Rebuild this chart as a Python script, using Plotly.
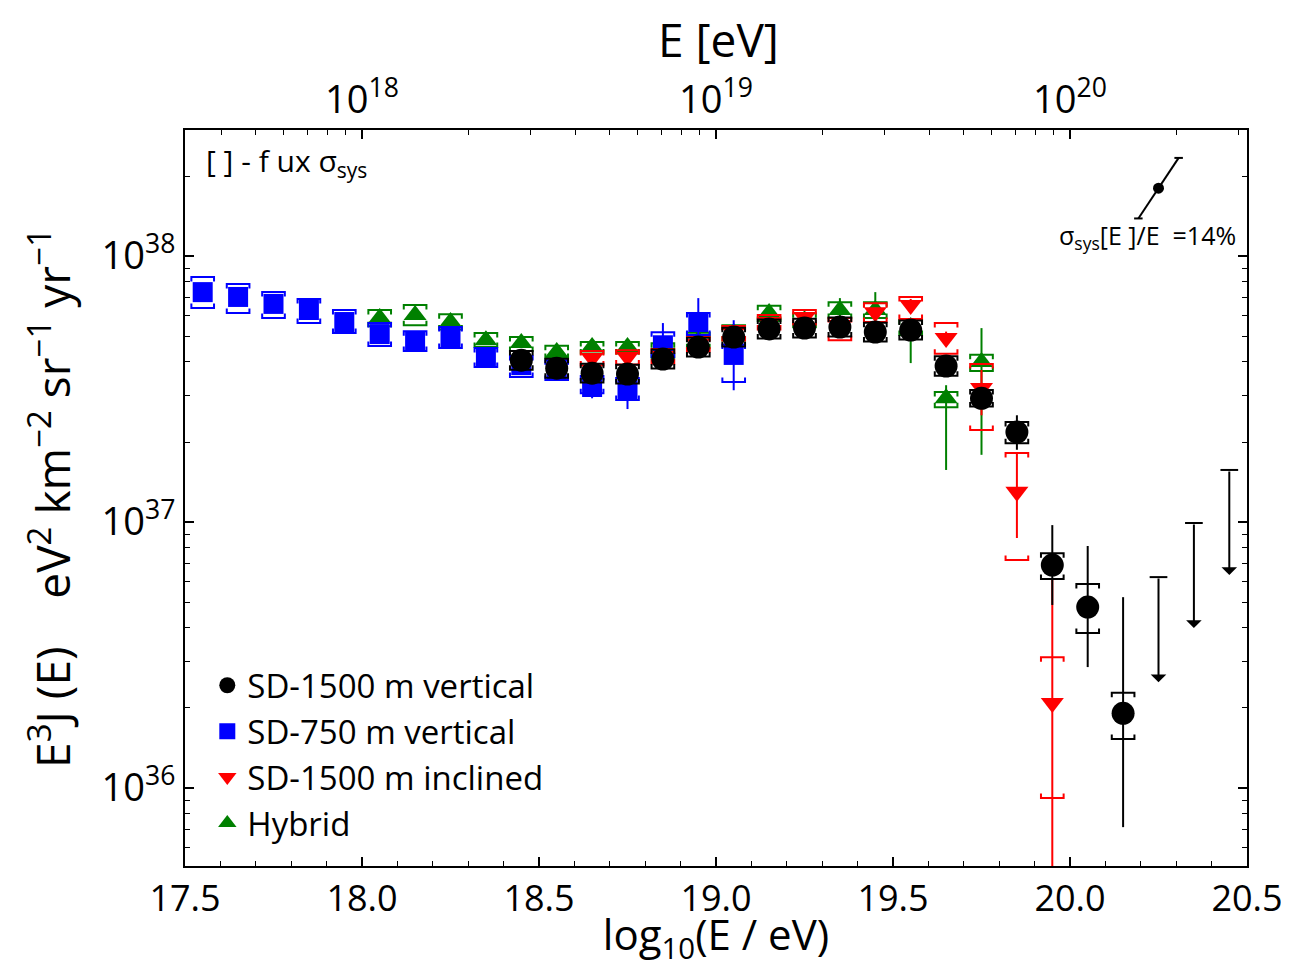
import numpy as np
import plotly.graph_objects as go

# ---------------- data ----------------
# SD-750 m vertical
x_750 = [17.55, 17.65, 17.75, 17.85, 17.95, 18.05, 18.15, 18.25, 18.35, 18.45,
         18.55, 18.65, 18.75, 18.85, 18.95, 19.05]
y_750 = [7.32e37, 7.02e37, 6.61e37, 6.27e37, 5.65e37, 5.09e37, 4.79e37, 4.96e37, 4.17e37, 3.89e37,
         3.72e37, 3.22e37, 3.13e37, 4.62e37, 5.65e37, 4.25e37]
stat_hi_750 = [7.45e37, 7.15e37, 6.72e37, 6.38e37, 5.75e37, 5.18e37, 4.88e37, 5.05e37, 4.25e37, 3.98e37,
               3.82e37, 3.55e37, 3.45e37, 5.60e37, 6.95e37, 5.74e37]
stat_lo_750 = [7.19e37, 6.89e37, 6.50e37, 6.16e37, 5.55e37, 5.00e37, 4.70e37, 4.87e37, 4.09e37, 3.80e37,
               3.62e37, 2.92e37, 2.66e37, 4.00e37, 5.00e37, 3.13e37]
sys_hi_750 = [8.34e37, 7.85e37, 7.32e37, 6.89e37, 6.27e37, 5.60e37, 5.22e37, 5.41e37, 4.51e37, 4.21e37,
              4.06e37, 3.54e37, 3.48e37, 5.17e37, 6.11e37, 4.65e37]
sys_lo_750 = [6.38e37, 6.11e37, 5.85e37, 5.60e37, 5.14e37, 4.59e37, 4.40e37, 4.51e37, 3.83e37, 3.51e37,
              3.42e37, 3.05e37, 2.88e37, 4.17e37, 5.05e37, 3.36e37]

# SD-1500 m vertical
x_1500 = [18.45, 18.55, 18.65, 18.75, 18.85, 18.95, 19.05, 19.15, 19.25, 19.35,
          19.45, 19.55, 19.65, 19.75, 19.85, 19.95, 20.05, 20.15]
y_1500 = [4.06e37, 3.79e37, 3.63e37, 3.60e37, 4.10e37, 4.55e37, 4.96e37, 5.32e37, 5.36e37, 5.41e37,
          5.18e37, 5.27e37, 3.86e37, 2.92e37, 2.18e37, 6.89e36, 4.79e36, 1.91e36]
stat_hi_1500 = [4.10e37, 3.83e37, 3.67e37, 3.64e37, 4.14e37, 4.60e37, 5.01e37, 5.38e37, 5.42e37, 5.48e37,
                5.26e37, 5.37e37, 4.00e37, 3.10e37, 2.52e37, 9.74e36, 8.13e36, 5.22e36]
stat_lo_1500 = [4.02e37, 3.75e37, 3.59e37, 3.56e37, 4.06e37, 4.50e37, 4.91e37, 5.26e37, 5.30e37, 5.34e37,
                5.10e37, 5.17e37, 3.72e37, 2.75e37, 1.87e37, 4.88e36, 2.85e36, 7.13e35]
sys_hi_1500 = [4.40e37, 4.11e37, 3.94e37, 3.90e37, 4.45e37, 4.93e37, 5.38e37, 5.77e37, 5.81e37, 5.87e37,
               5.62e37, 5.72e37, 4.20e37, 3.14e37, 2.38e37, 7.64e36, 5.85e36, 2.28e36]
sys_lo_1500 = [3.74e37, 3.49e37, 3.35e37, 3.32e37, 3.78e37, 4.19e37, 4.57e37, 4.90e37, 4.94e37, 4.99e37,
               4.77e37, 4.86e37, 3.55e37, 2.72e37, 1.98e37, 6.11e36, 3.83e36, 1.53e36]

# SD-1500 m vertical, upper limits
x_ul = [20.25, 20.35, 20.45]
y_ul = [6.21e36, 9.92e36, 1.57e37]

# SD-1500 m inclined
x_incl = [18.65, 18.75, 18.85, 18.95, 19.05, 19.15, 19.25, 19.35, 19.45, 19.55,
          19.65, 19.75, 19.85, 19.95]
y_incl = [4.14e37, 4.17e37, 4.21e37, 4.67e37, 5.14e37, 5.65e37, 5.90e37, 5.51e37, 6.15e37, 6.55e37,
          4.92e37, 3.19e37, 1.30e37, 2.09e36]
stat_hi_incl = [4.22e37, 4.25e37, 4.30e37, 4.77e37, 5.26e37, 5.80e37, 6.06e37, 5.70e37, 6.40e37, 6.90e37,
                5.20e37, 3.73e37, 1.82e37, 6.05e36]
stat_lo_incl = [4.06e37, 4.09e37, 4.12e37, 4.57e37, 5.02e37, 5.50e37, 5.74e37, 5.32e37, 5.90e37, 6.20e37,
                4.60e37, 2.52e37, 8.71e36, 1.0e35]
sys_hi_incl = [4.40e37, 4.43e37, 4.47e37, 4.96e37, 5.46e37, 6.00e37, 6.27e37, 5.85e37, 6.65e37, 7.02e37,
               5.60e37, 3.93e37, 1.82e37, 3.10e36]
sys_lo_incl = [3.88e37, 3.91e37, 3.95e37, 4.38e37, 4.82e37, 5.30e37, 5.53e37, 4.83e37, 5.65e37, 5.80e37,
               4.29e37, 2.22e37, 7.20e36, 9.17e35]

# Hybrid
x_hyb = [18.05, 18.15, 18.25, 18.35, 18.45, 18.55, 18.65, 18.75, 18.85, 18.95,
         19.05, 19.15, 19.25, 19.35, 19.45, 19.55, 19.65, 19.75]
y_hyb = [5.85e37, 6.00e37, 5.65e37, 4.83e37, 4.71e37, 4.36e37, 4.55e37, 4.55e37, 4.43e37, 4.83e37,
         5.14e37, 6.11e37, 5.74e37, 6.27e37, 6.27e37, 5.41e37, 2.92e37, 4.00e37]
stat_hi_hyb = [6.05e37, 6.20e37, 5.83e37, 4.98e37, 4.86e37, 4.50e37, 4.70e37, 4.70e37, 4.60e37, 5.02e37,
               5.35e37, 6.40e37, 6.02e37, 6.95e37, 7.32e37, 5.60e37, 3.27e37, 5.36e37]
stat_lo_hyb = [5.65e37, 5.80e37, 5.47e37, 4.68e37, 4.56e37, 4.22e37, 4.40e37, 4.40e37, 4.26e37, 4.64e37,
               4.93e37, 5.82e37, 5.46e37, 5.62e37, 5.40e37, 3.96e37, 1.57e37, 1.79e37]
sys_hi_hyb = [6.27e37, 6.55e37, 6.05e37, 5.14e37, 4.96e37, 4.60e37, 4.75e37, 4.75e37, 4.70e37, 5.15e37,
              5.50e37, 6.50e37, 6.10e37, 6.70e37, 6.70e37, 5.75e37, 3.08e37, 4.26e37]
sys_lo_hyb = [5.45e37, 5.50e37, 5.30e37, 4.55e37, 4.40e37, 4.14e37, 4.30e37, 4.30e37, 4.15e37, 4.50e37,
              4.80e37, 5.70e37, 5.40e37, 5.85e37, 5.85e37, 5.05e37, 2.70e37, 3.70e37]

# energy-scale systematic indicator
esys_x = 20.25
esys_y = 1.80e38
esys_frac = 0.14

# axis ticks
y_major = [1e36, 1e37, 1e38]
y_major_text = ["10<sup>36</sup>", "10<sup>37</sup>", "10<sup>38</sup>"]
x_major = [17.5, 18.0, 18.5, 19.0, 19.5, 20.0, 20.5]
x_major_text = ["17.5", "18.0", "18.5", "19.0", "19.5", "20.0", "20.5"]
top_major = [18, 19, 20]
top_major_text = ["10<sup>18</sup>", "10<sup>19</sup>", "10<sup>20</sup>"]

# ---------------- figure ----------------
FONT = "Open Sans, DejaVu Sans, sans-serif"
XR = [17.5, 20.5]
YR = [35.707, 38.474]
PX_PER_DEC = 266.0
tickf = 10 ** (4.5 / PX_PER_DEC)
HW = 0.032

fig = go.Figure()


def brackets(xs, his, los, hw=HW):
    X, Y = [], []
    for x, hi, lo in zip(xs, his, los):
        X += [x - hw, x - hw, x + hw, x + hw, None]
        Y += [hi / tickf, hi, hi, hi / tickf, None]
        X += [x - hw, x - hw, x + hw, x + hw, None]
        Y += [lo * tickf, lo, lo, lo * tickf, None]
    return X, Y


def add_series(name, xs, ys, shi, slo, syhi, sylo, color, symbol, size):
    bx, by = brackets(xs, syhi, sylo)
    fig.add_trace(go.Scatter(x=bx, y=by, mode="lines", line=dict(color=color, width=2),
                             showlegend=False, hoverinfo="skip"))
    fig.add_trace(go.Scatter(
        x=xs, y=ys, mode="markers", name=name,
        marker=dict(color=color, symbol=symbol, size=size, line=dict(width=0)),
        error_y=dict(type="data", symmetric=False,
                     array=[h - y for h, y in zip(shi, ys)],
                     arrayminus=[y - l for l, y in zip(slo, ys)],
                     color=color, thickness=2, width=0),
    ))


add_series("Hybrid", x_hyb, y_hyb, stat_hi_hyb, stat_lo_hyb, sys_hi_hyb, sys_lo_hyb,
           "#008000", "triangle-up", 20)
add_series("SD-750 m vertical", x_750, y_750, stat_hi_750, stat_lo_750, sys_hi_750, sys_lo_750,
           "#0000ff", "square", 20)
add_series("SD-1500 m inclined", x_incl, y_incl, stat_hi_incl, stat_lo_incl, sys_hi_incl, sys_lo_incl,
           "#ff0000", "triangle-down", 20)
add_series("SD-1500 m vertical", x_1500, y_1500, stat_hi_1500, stat_lo_1500, sys_hi_1500, sys_lo_1500,
           "#000000", "circle", 23)

rank = {"SD-1500 m vertical": 1, "SD-750 m vertical": 2, "SD-1500 m inclined": 3, "Hybrid": 4}
for tr in fig.data:
    if tr.name in rank:
        tr.legendrank = rank[tr.name]

# upper limits: caps + arrows
cx, cy = [], []
for x, u in zip(x_ul, y_ul):
    cx += [x - 0.025, x + 0.025, None]
    cy += [u, u, None]
fig.add_trace(go.Scatter(x=cx, y=cy, mode="lines", line=dict(color="black", width=2),
                         showlegend=False, hoverinfo="skip"))
ARROW_DEC = 0.395
for x, u in zip(x_ul, y_ul):
    fig.add_annotation(x=x, y=np.log10(u) - ARROW_DEC, ax=x, ay=np.log10(u),
                       xref="x", yref="y", axref="x", ayref="y",
                       showarrow=True, arrowhead=1, arrowsize=1.3, arrowwidth=2,
                       arrowcolor="black", text="")

# energy systematic indicator
dx = np.log10(1 + esys_frac)
dyf = 10 ** (2 * dx)
fig.add_trace(go.Scatter(x=[esys_x - dx, esys_x + dx], y=[esys_y / dyf, esys_y * dyf],
                         mode="lines", line=dict(color="black", width=2),
                         showlegend=False, hoverinfo="skip"))
fig.add_trace(go.Scatter(x=[esys_x], y=[esys_y], mode="markers",
                         marker=dict(color="black", size=11), showlegend=False, hoverinfo="skip"))
ecx = [esys_x - dx - 0.012, esys_x - dx + 0.012, None, esys_x + dx - 0.012, esys_x + dx + 0.012]
ecy = [esys_y / dyf, esys_y / dyf, None, esys_y * dyf, esys_y * dyf]
fig.add_trace(go.Scatter(x=ecx, y=ecy, mode="lines", line=dict(color="black", width=2),
                         showlegend=False, hoverinfo="skip"))

# dummy trace to activate top axis
fig.add_trace(go.Scatter(x=[18.0], y=[1e37], xaxis="x2", mode="markers",
                         marker=dict(opacity=0), showlegend=False, hoverinfo="skip"))

y_minor = [k * 10.0 ** n for n in range(35, 39) for k in range(2, 10)]
top_minor = [n + np.log10(k) for n in range(17, 21) for k in range(2, 10)
             if XR[0] <= n + np.log10(k) <= XR[1]]


def bigsup(t, px):
    return '<sup><span style="font-size:%dpx">%s</span></sup>' % (px, t)


ytitle = ("E" + bigsup("3", 33) + "J (E)    eV" + bigsup("2", 33) + " km" + bigsup("\u22122", 33)
          + " sr" + bigsup("\u22121", 33) + " yr" + bigsup("\u22121", 33))

# the page adds an 8 px body margin, so the figure is 8 px smaller and shifted
fig.update_layout(
    width=1281, height=960,
    margin=dict(l=177, r=42, t=122, b=102, autoexpand=False),
    paper_bgcolor="white", plot_bgcolor="white",
    font=dict(family=FONT, color="black", size=30),
    showlegend=True,
    legend=dict(x=0.021, y=0.02, xanchor="left", yanchor="bottom",
                bgcolor="rgba(0,0,0,0)", font=dict(size=33, family=FONT),
                itemsizing="trace", tracegroupgap=0),
    xaxis=dict(range=XR, showline=True, linecolor="black", linewidth=2, mirror=False,
               automargin=False,
               ticks="inside", ticklen=9, tickwidth=2, tickcolor="black",
               tickvals=x_major, ticktext=x_major_text, tickfont=dict(size=36),
               minor=dict(dtick=0.1, tick0=17.5, ticks="inside", ticklen=5, tickwidth=1,
                          tickcolor="black"),
               showgrid=False, zeroline=False,
               title=dict(text="log<sub>10</sub>(E / eV)", font=dict(size=42), standoff=9)),
    xaxis2=dict(range=XR, overlaying="x", side="top", anchor="y", showline=True,
                linecolor="black", linewidth=2, automargin=False,
                ticks="inside", ticklen=9, tickwidth=2, tickcolor="black",
                tickvals=top_major, ticktext=top_major_text, tickfont=dict(size=38),
                minor=dict(tickmode="array", tickvals=top_minor, ticks="inside", ticklen=5,
                           tickwidth=1, tickcolor="black"),
                showgrid=False, zeroline=False),
    yaxis=dict(type="log", range=YR, showline=True, linecolor="black", linewidth=2,
               mirror="ticks", automargin=False,
               ticks="inside", ticklen=9, tickwidth=2, tickcolor="black",
               tickvals=y_major, ticktext=y_major_text, tickfont=dict(size=38),
               minor=dict(tickmode="array", tickvals=y_minor, ticks="inside", ticklen=5,
                          tickwidth=1, tickcolor="black"),
               showgrid=False, zeroline=False,
               title=dict(text=ytitle, font=dict(size=46), standoff=16)),
)

fig.add_annotation(text="E [eV]", xref="paper", yref="paper", x=0.502, y=1.124,
                   showarrow=False, font=dict(size=46), xanchor="center", yanchor="middle")
fig.add_annotation(text="[ ] - f ux \u03c3<sub>sys</sub>", xref="paper", yref="paper",
                   x=0.018, y=0.957, showarrow=False, font=dict(size=30),
                   xanchor="left", yanchor="middle")
fig.add_annotation(text="\u03c3<sub>sys</sub>[E ]/E  =14%", xref="paper", yref="paper",
                   x=0.906, y=0.855, showarrow=False, font=dict(size=25),
                   xanchor="center", yanchor="middle")

fig.write_html("out.html")
